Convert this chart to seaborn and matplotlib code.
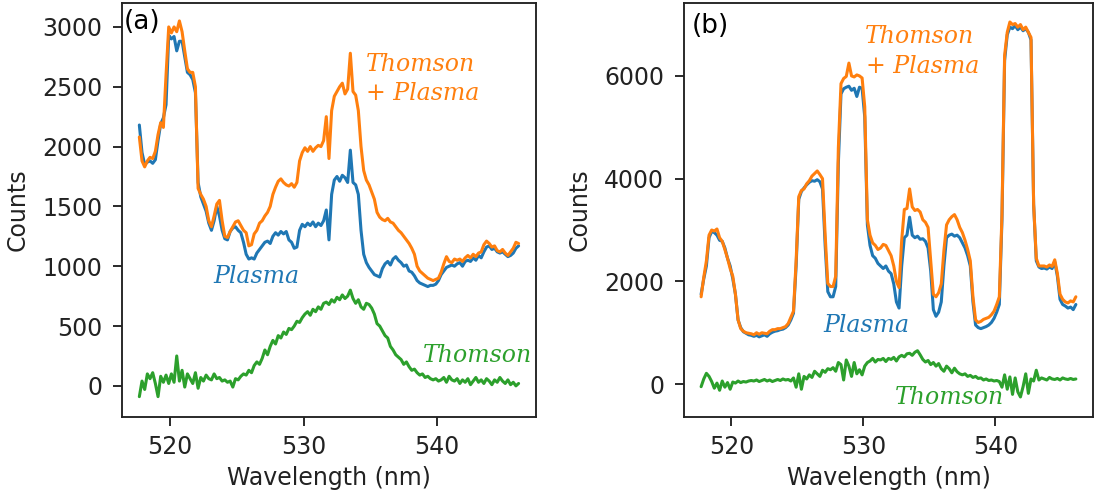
import numpy as np
import pandas as pd
import matplotlib
matplotlib.use("Agg")
import matplotlib.pyplot as plt
import seaborn as sns

# ---------------- data ----------------
wavelength = np.round(np.arange(517.7, 546.11, 0.2), 1)   # nm, 143 samples

# panel (a)
a_plasma = [
    2180, 1950, 1850, 1870, 1880, 1860, 1890, 2050, 2190, 2240,
    2350, 2930, 2900, 2920, 2800, 2880, 2880, 2750, 2620, 2600,
    2560, 2450, 1700, 1580, 1520, 1460, 1360, 1300, 1380, 1500,
    1420, 1300, 1230, 1220, 1290, 1320, 1330, 1300, 1280, 1200,
    1100, 1060, 1070, 1060, 1110, 1140, 1170, 1200, 1210, 1190,
    1250, 1280, 1260, 1290, 1270, 1290, 1220, 1200, 1150, 1160,
    1300, 1350, 1330, 1360, 1340, 1370, 1330, 1360, 1340, 1380,
    1470, 1220, 1600, 1720, 1750, 1710, 1760, 1740, 1700, 1970,
    1700, 1680, 1600, 1300, 1100, 1030, 990, 960, 930, 920,
    910, 980, 1020, 1040, 1010, 1060, 1080, 1050, 1030, 1000,
    1010, 960, 950, 920, 880, 860, 850, 840, 830, 840,
    840, 850, 880, 930, 960, 990, 1000, 1010, 1000, 1020,
    1030, 1000, 1040, 1050, 1040, 1070, 1050, 1090, 1070, 1120,
    1160, 1170, 1140, 1150, 1120, 1110, 1120, 1100, 1080, 1090,
    1110, 1150, 1170]
a_total = [
    2080, 1880, 1830, 1880, 1910, 1900, 1960, 2100, 2200, 2160,
    2600, 3000, 2950, 3000, 2960, 3050, 2960, 2800, 2650, 2620,
    2620, 2500, 1650, 1600, 1560, 1500, 1380, 1330, 1420, 1520,
    1550, 1380, 1250, 1240, 1290, 1330, 1370, 1380, 1340, 1300,
    1280, 1170, 1180, 1270, 1300, 1360, 1380, 1420, 1450, 1500,
    1600, 1660, 1710, 1730, 1700, 1680, 1670, 1690, 1660, 1700,
    1880, 1950, 1990, 1960, 2000, 1960, 1990, 2010, 2000, 2050,
    2250, 1900, 2300, 2420, 2460, 2500, 2530, 2440, 2480, 2780,
    2460, 2430, 2300, 2000, 1800, 1720, 1680, 1620, 1560, 1450,
    1410, 1390, 1380, 1400, 1370, 1360, 1330, 1300, 1280, 1250,
    1220, 1190, 1150, 1100, 1000, 960, 940, 920, 900, 890,
    880, 890, 900, 950, 1020, 1080, 1040, 1030, 1060, 1050,
    1060, 1040, 1070, 1090, 1070, 1100, 1080, 1110, 1120, 1180,
    1210, 1190, 1160, 1170, 1130, 1120, 1140, 1110, 1090, 1120,
    1150, 1200, 1190]
a_thomson = [
    -90, 40, -30, 100, 60, 110, 20, -90, 80, 30,
    90, 20, 100, 30, 250, 40, 130, -10, 100, 60,
    20, 110, -20, 70, 40, 90, 60, 50, 100, 60,
    70, 40, 50, 30, 40, -10, 60, 50, 80, 100,
    90, 130, 110, 170, 200, 180, 230, 300, 260, 330,
    380, 350, 420, 400, 450, 430, 480, 470, 500, 540,
    530, 570, 600, 620, 590, 640, 620, 660, 640, 690,
    700, 680, 720, 700, 740, 720, 760, 730, 750, 800,
    730, 690, 720, 660, 640, 690, 680, 650, 600, 520,
    500, 460, 420, 400, 330, 300, 260, 240, 220, 180,
    200, 160, 130, 140, 110, 90, 100, 70, 80, 60,
    50, 60, 40, 50, 70, 30, 80, 50, 40, 60,
    20, 50, 30, 60, 10, 40, 70, 30, 50, 20,
    60, 40, 10, 50, 30, 70, 40, 20, 50, 10,
    30, 0, 20]

# panel (b)
b_plasma = [
    1750, 2050, 2300, 2850, 2970, 2950, 2900, 2800, 2780, 2650,
    2450, 2300, 2050, 1750, 1250, 1100, 1020, 990, 960, 950,
    930, 950, 920, 940, 960, 930, 980, 1010, 1030, 1040,
    1060, 1070, 1100, 1150, 1250, 1380, 2300, 3600, 3750, 3820,
    3880, 3930, 3960, 3950, 3980, 3940, 3800, 2700, 1800, 1700,
    1700, 1900, 4300, 5650, 5750, 5780, 5800, 5720, 5760, 5600,
    5780, 5760, 5200, 3100, 2700, 2500, 2450, 2350, 2300, 2250,
    2300, 2200, 2150, 1950, 1600, 1480, 2300, 2850, 2900, 3250,
    2900, 2850, 2880, 2820, 2830, 2780, 2650, 2200, 1450, 1320,
    1400, 1600, 2300, 2850, 2900, 2920, 2880, 2900, 2850, 2750,
    2650, 2500, 2300, 1600, 1150, 1100, 1080, 1100, 1120, 1150,
    1200, 1280, 1400, 1550, 3200, 6300, 6800, 6950, 6920, 6980,
    6900, 6950, 6880, 6920, 6850, 6700, 3500, 2400, 2280, 2250,
    2260, 2240, 2280, 2250, 2380, 2100, 1650, 1550, 1520, 1480,
    1500, 1450, 1550]
b_total = [
    1700, 2080, 2400, 2900, 3000, 2980, 3020, 2850, 2780, 2620,
    2450, 2250, 2100, 1750, 1250, 1080, 1030, 1000, 990, 980,
    960, 1000, 970, 1000, 990, 980, 1030, 1060, 1060, 1080,
    1080, 1100, 1120, 1180, 1300, 1420, 2400, 3650, 3770, 3800,
    3900, 3960, 4050, 4100, 4150, 4080, 4000, 2900, 1960, 1900,
    1900, 2100, 4600, 5850, 5950, 5990, 6250, 6000, 5980, 6020,
    6000, 5960, 5400, 3200, 2900, 2750, 2700, 2620, 2650, 2720,
    2700, 2600, 2500, 2300, 2000, 1880, 2800, 3400, 3420, 3800,
    3450, 3380, 3400, 3350, 3200, 3150, 3050, 2400, 1750, 1700,
    1780, 1950, 2600, 3100, 3200, 3260, 3300, 3200, 3050, 2950,
    2800, 2620, 2400, 1700, 1250, 1200, 1220, 1260, 1280, 1300,
    1350, 1420, 1550, 1700, 3300, 6400, 6850, 7050, 7000, 7020,
    6950, 7000, 6900, 6950, 6850, 6750, 3500, 2450, 2300, 2300,
    2300, 2280, 2320, 2290, 2420, 2150, 1750, 1650, 1600, 1580,
    1620, 1600, 1700]
b_thomson = [
    -50, 100, 210, 150, 50, -80, 20, -120, 60, -60,
    30, -100, 40, 20, 60, 30, 50, 40, 60, 70,
    60, 80, 50, 70, 90, 60, 80, 50, 70, 90,
    70, 100, 80, 90, 60, 120, -60, 200, -100, 150,
    100, 180, 130, 250, 200, 150, 270, 230, 300, 280,
    320, 250, 420, 380, 80, 470, 350, 150, 420, 200,
    280, 180, 350, 420, 450, 500, 430, 480, 470, 500,
    440, 500, 480, 520, 450, 530, 560, 530, 590, 600,
    560, 620, 650, 570, 480, 430, 460, 380, 420, 350,
    400, 300, 250, 350, 300, 220, 310, 240, 200, 180,
    200, 150, 170, 130, 150, 110, 120, 80, 100, 70,
    80, 60, 70, 50, -60, 180, -100, 140, -200, 120,
    -150, -250, -50, 200, -180, 100, 60, 270, 80, 120,
    100, 80, 130, 100, 90, 110, 80, 120, 100, 90,
    110, 90, 100]

series_names = ["Plasma", "Thomson + Plasma", "Thomson"]
series_colors = ["#1f77b4", "#ff7f0e", "#2ca02c"]
x_ticks = [520, 530, 540]
a_yticks = [0, 500, 1000, 1500, 2000, 2500, 3000]
b_yticks = [0, 2000, 4000, 6000]

for arr in (a_plasma, a_total, a_thomson, b_plasma, b_total, b_thomson):
    assert len(arr) == len(wavelength)


def long_frame(plasma, total, thomson):
    parts = []
    for name, vals in zip(series_names, (plasma, total, thomson)):
        parts.append(pd.DataFrame({"Wavelength": wavelength,
                                   "Counts": vals, "Series": name}))
    return pd.concat(parts, ignore_index=True)


df_a = long_frame(a_plasma, a_total, a_thomson)
df_b = long_frame(b_plasma, b_total, b_thomson)

# ---------------- figure ----------------
sns.set_theme(style="ticks")
plt.rcParams["font.family"] = ["DejaVu Sans"]
plt.rcParams["axes.linewidth"] = 1.35
plt.rcParams["xtick.major.width"] = 1.35
plt.rcParams["ytick.major.width"] = 1.35
plt.rcParams["xtick.major.size"] = 6.3
plt.rcParams["ytick.major.size"] = 6.3
plt.rcParams["xtick.major.pad"] = 6.5
plt.rcParams["ytick.major.pad"] = 8

fig = plt.figure(figsize=(10.94, 4.98), dpi=100)
ax_a = fig.add_axes([0.1115, 0.1627, 0.3784, 0.8313])
ax_b = fig.add_axes([0.6252, 0.1627, 0.3739, 0.8313])

palette = dict(zip(series_names, series_colors))
for ax, df in ((ax_a, df_a), (ax_b, df_b)):
    sns.lineplot(data=df, x="Wavelength", y="Counts", hue="Series",
                 hue_order=series_names, palette=palette, estimator=None,
                 sort=True, legend=False, linewidth=2.2, ax=ax)
    for s in ax.spines.values():
        s.set_visible(True)
        s.set_color("#222222")
    ax.set_xticks(x_ticks)
    ax.set_xlim(516.4, 547.4)
    ax.set_xlabel("Wavelength (nm)", fontsize=17, color="#222222",
                  labelpad=5)
    ax.set_ylabel("Counts", fontsize=17, color="#222222", labelpad=9)
    ax.tick_params(labelsize=17, colors="#222222")

ax_a.set_yticks(a_yticks)
ax_a.set_ylim(-260, 3200)
ax_b.set_yticks(b_yticks)
ax_b.set_ylim(-640, 7420)

# panel letters
ax_a.text(0.005, 0.985, "(a)", transform=ax_a.transAxes, fontsize=19,
          ha="left", va="top", color="black")
ax_b.text(0.02, 0.975, "(b)", transform=ax_b.transAxes, fontsize=19,
          ha="left", va="top", color="black")

# curve annotations
ann = dict(family="DejaVu Serif", style="italic", fontsize=17,
           ha="left", va="baseline")
ax_a.text(534.66, 2630, "Thomson", color=series_colors[1], **ann)
ax_a.text(534.68, 2387, "+ Plasma", color=series_colors[1], **ann)
ax_a.text(523.26, 858, "Plasma", color=series_colors[0], **ann)
ax_a.text(538.95, 198, "Thomson", color=series_colors[2], **ann)

ax_b.text(530.11, 6643, "Thomson", color=series_colors[1], **ann)
ax_b.text(530.19, 6059, "+ Plasma", color=series_colors[1], **ann)
ax_b.text(526.97, 1013, "Plasma", color=series_colors[0], **ann)
ax_b.text(532.36, -390, "Thomson", color=series_colors[2], **ann)

fig.savefig("out.png", dpi=100)
